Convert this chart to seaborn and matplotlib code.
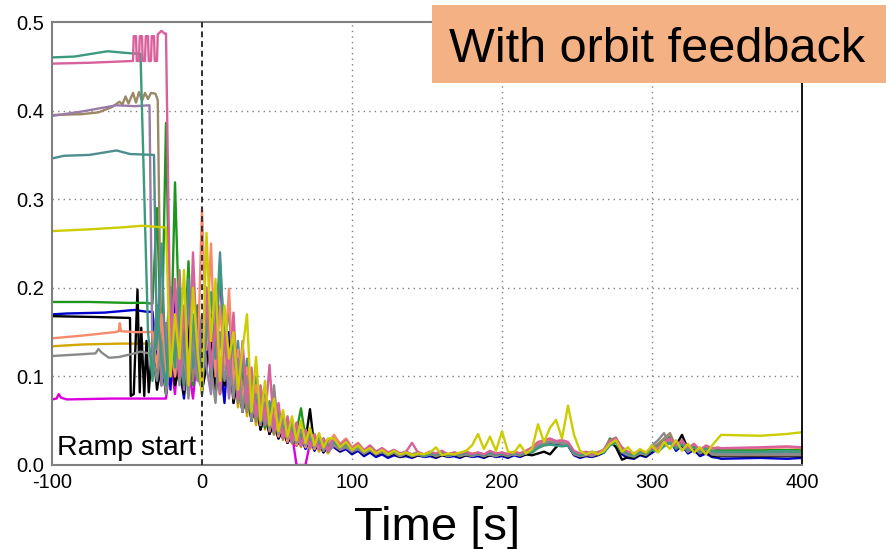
import matplotlib
matplotlib.use("Agg")
import matplotlib.pyplot as plt
from matplotlib.patches import Rectangle
import pandas as pd
import seaborn as sns

# Sample times (s): fine sampling through the ramp, coarser afterwards, then the flat tail
t_fast = list(range(-36, 85, 3))
t_slow = list(range(88, 345, 4))
t_tail = [346, 372, 390, 400]

# All values below are in units of 1e-3.
# *_lead: (time, value) pairs before the signal breaks up; *_noise: values on the
# end of the t_fast + t_slow grid; *_tail: values on t_tail.
teal_lead = [(-100, 460), (-85, 461), (-63, 467), (-50, 465), (-41, 464)]
teal_noise = [150, 95, 180, 120, 90, 160, 110, 200, 130, 100, 170, 115, 85, 150, 195, 120, 228, 140, 100, 150,
              90, 120, 75, 100, 65, 88, 55, 72, 45, 60, 40, 52, 35, 45, 30, 40, 26, 34, 22, 30, 20,
              26, 20, 24, 17, 21, 15, 19, 14, 17, 12, 16, 12, 14, 11, 14, 10, 13, 12, 14, 11, 13, 12, 14, 11, 13,
              11, 14, 12, 13, 11, 14, 12, 15, 14, 19, 22, 23, 22, 21, 22, 14, 11, 13, 15, 13, 14, 22, 25, 17, 13,
              11, 15, 13, 17, 15, 21, 25, 19, 23, 17, 21, 15, 19, 16, 15]
teal_tail = [15, 15, 16, 15]

pink_lead = [(-100, 453), (-75, 454), (-46, 456), (-45.5, 484), (-44, 484), (-43.5, 456), (-42, 456),
             (-41.5, 484), (-40, 484), (-39.5, 456), (-38, 456), (-37.5, 484), (-36, 484), (-35.5, 456),
             (-34, 456), (-33.5, 484), (-32, 484), (-31.5, 456), (-30, 456), (-29.5, 486), (-27, 490),
             (-25, 487), (-24, 487)]
pink_noise = [130, 210, 100, 180, 90, 240, 120, 85, 200, 110, 160, 80, 150, 100, 172, 75, 140, 70, 110, 55,
              90, 50, 113, 40, 70, 30, 55, 28, 48, 22, 40, 20, 35, 18, 30, 16,
              30, 22, 28, 18, 24, 16, 22, 15, 19, 14, 17, 13, 15, 25, 14, 12, 15, 13, 16, 12, 14, 13, 15, 12, 14,
              12, 16, 13, 14, 12, 15, 13, 16, 20, 26, 28, 30, 27, 28, 26, 16, 13, 15, 12, 14, 16, 27, 30, 20, 15,
              13, 17, 14, 20, 16, 26, 30, 22, 28, 19, 24, 17, 22, 19, 19]
pink_tail = [19, 20, 21, 20]

brown_lead = [(-100, 395), (-80, 396), (-69, 398), (-60, 404), (-55, 410), (-53, 407), (-51, 416), (-49, 408),
              (-46, 420), (-44, 409), (-42, 421), (-40, 411), (-38, 420), (-36, 413), (-34, 420), (-31, 419),
              (-29.5, 412)]
brown_noise = [90, 160, 100, 150, 220, 110, 180, 95, 150, 120, 200, 90, 170, 100, 140, 80, 130, 70, 120, 60,
               95, 50, 80, 45, 70, 35, 58, 30, 50, 25, 42, 22, 38, 20, 32, 18, 28, 16,
               24, 18, 22, 16, 20, 14, 18, 13, 16, 12, 15, 11, 13, 10, 12, 11, 13, 10, 12, 11, 13, 10, 12, 11, 12,
               10, 13, 11, 12, 10, 13, 11, 14, 17, 23, 25, 27, 26, 25, 24, 13, 10, 12, 11, 13, 18, 28, 31, 16, 12,
               10, 14, 12, 19, 24, 30, 36, 20, 26, 16, 22, 14, 18, 12, 11]
brown_tail = [11, 11, 11, 11]

purple_lead = [(-100, 394), (-80, 399), (-57, 406), (-45, 405), (-35, 406)]
purple_noise = [110, 180, 90, 140, 200, 100, 160, 85, 190, 120, 95, 170, 110, 80, 190, 100, 150, 75, 130, 95,
                60, 110, 70, 55, 85, 45, 65, 38, 55, 30, 45, 25, 40, 22, 34, 20, 30, 18, 26, 15,
                22, 17, 20, 15, 18, 13, 17, 12, 15, 11, 14, 10, 13, 11, 12, 10, 12, 11, 13, 10, 12, 11, 13, 10, 12,
                11, 12, 10, 13, 11, 12, 11, 14, 16, 22, 24, 26, 25, 24, 23, 12, 10, 11, 12, 13, 15, 24, 27, 15, 11,
                10, 13, 12, 18, 20, 26, 30, 19, 24, 15, 20, 13, 17, 12, 13]
purple_tail = [13, 13, 12, 13]

slate_lead = [(-100, 346), (-92, 349), (-75, 350), (-57, 355), (-48, 351), (-32, 350)]
slate_noise = [130, 250, 95, 200, 120, 170, 90, 210, 110, 150, 85, 180, 100, 140, 240, 130, 180, 90, 140, 70,
               120, 60, 100, 55, 80, 42, 65, 38, 55, 30, 48, 26, 40, 22, 36, 20, 30, 17, 25,
               28, 21, 25, 18, 22, 16, 20, 14, 18, 13, 16, 12, 15, 12, 14, 11, 14, 12, 15, 11, 14, 12, 13, 11, 14,
               12, 13, 11, 14, 12, 13, 12, 15, 18, 24, 27, 28, 26, 26, 24, 14, 12, 13, 12, 14, 17, 26, 29, 17, 13,
               11, 15, 13, 19, 17, 24, 28, 20, 25, 17, 22, 15, 19, 15, 14]
slate_tail = [14, 14, 15, 14]

yellow_lead = [(-100, 264), (-75, 266), (-55, 268), (-40, 270), (-24, 268)]
yellow_noise = [100, 170, 120, 220, 90, 200, 130, 80, 262, 140, 210, 95, 180, 120, 150, 85, 130, 170, 60, 122,
                50, 95, 45, 75, 38, 62, 32, 55, 28, 50, 25, 42, 22, 36, 20, 30,
                30, 20, 26, 17, 22, 15, 19, 13, 17, 12, 16, 12, 14, 11, 13, 12, 14, 20, 11, 13, 12, 14, 16, 22, 35,
                18, 32, 16, 38, 15, 14, 23, 13, 18, 46, 26, 42, 51, 30, 67, 34, 16, 12, 15, 12, 16, 24, 28, 15, 20,
                12, 18, 14, 22, 14, 26, 18, 28, 16, 24, 14, 20, 12, 22, 30]
yellow_tail = [34, 33, 35, 37]

green_lead = [(-100, 184), (-75, 184), (-50, 183), (-38, 183), (-33, 182)]
green_noise = [290, 120, 386, 110, 319, 150, 120, 230, 90, 180, 140, 200, 100, 160, 80, 130, 95, 150, 70, 110,
               60, 95, 50, 80, 42, 68, 35, 55, 30, 45, 25, 38, 64, 30, 35, 22, 30, 18, 26,
               32, 22, 27, 18, 23, 15, 20, 14, 17, 12, 16, 11, 14, 10, 13, 11, 14, 10, 13, 11, 12, 10, 13, 11, 12,
               10, 13, 11, 12, 10, 13, 11, 14, 17, 22, 25, 26, 25, 24, 23, 13, 10, 12, 11, 13, 16, 30, 26, 14, 11,
               9, 14, 11, 17, 22, 27, 32, 18, 24, 15, 20, 14, 18, 16, 17]
green_tail = [17, 17, 17, 17]

blue_lead = [(-100, 170), (-90, 171), (-65, 172), (-45, 175), (-37, 173), (-33, 173)]
blue_noise = [120, 90, 160, 85, 200, 110, 75, 150, 95, 180, 80, 130, 170, 90, 120, 70, 150, 85, 110, 60,
              90, 50, 75, 40, 62, 35, 50, 30, 45, 25, 38, 22, 32, 18, 30, 16, 26, 14, 22,
              20, 15, 18, 12, 16, 10, 14, 9, 12, 8, 11, 9, 10, 8, 11, 9, 10, 8, 11, 9, 10, 8, 11, 9, 10,
              8, 11, 9, 10, 8, 11, 9, 12, 15, 20, 23, 25, 24, 23, 22, 11, 8, 10, 9, 11, 14, 24, 27, 12, 8,
              7, 11, 9, 14, 18, 24, 28, 16, 22, 13, 17, 10, 13, 9, 8]
blue_tail = [7, 8, 7, 8]

black_lead = [(-100, 168), (-70, 167), (-48, 166), (-47.5, 78), (-45.5, 80), (-43, 198), (-41.5, 82),
              (-40.5, 155), (-38.5, 78), (-37, 140), (-35.5, 82)]
black_noise = [140, 85, 120, 80, 150, 90, 110, 80, 160, 95, 130, 85, 110, 150, 80, 120, 90, 140, 70, 100,
               60, 90, 50, 75, 40, 60, 35, 48, 30, 40, 25, 35, 22, 30, 28, 63, 18, 25, 15, 20,
               22, 16, 28, 14, 20, 12, 17, 11, 15, 10, 13, 9, 12, 9, 11, 10, 12, 9, 11, 10, 12, 9, 11, 10, 12,
               9, 11, 10, 12, 9, 14, 10, 12, 11, 13, 15, 12, 20, 26, 24, 12, 9, 11, 10, 12, 15, 27, 20, 6, 9,
               8, 12, 10, 16, 20, 25, 28, 22, 34, 18, 22, 12, 16, 10, 10]
black_tail = [10, 10, 10, 10]

salmon_lead = [(-100, 143), (-80, 146), (-58, 150), (-55.5, 151), (-54.8, 160), (-54, 151), (-45, 150),
               (-33, 150)]
salmon_noise = [110, 170, 90, 140, 100, 200, 120, 90, 160, 110, 290, 130, 250, 100, 180, 110, 199, 90, 130, 70,
                110, 55, 90, 45, 75, 38, 60, 32, 50, 26, 42, 22, 36, 20, 32, 18, 28, 16, 24,
                34, 24, 30, 20, 25, 17, 22, 15, 19, 14, 17, 13, 15, 12, 15, 12, 14, 13, 15, 12, 14, 12, 15, 13, 14,
                12, 15, 13, 14, 12, 15, 13, 16, 19, 25, 27, 29, 27, 27, 25, 15, 12, 14, 12, 15, 17, 26, 28, 18, 14,
                12, 16, 13, 19, 18, 25, 29, 21, 26, 18, 23, 16, 21, 19, 20]
salmon_tail = [19, 19, 20, 19]

gold_lead = [(-100, 134), (-80, 136), (-55, 137), (-33, 137)]
gold_noise = [100, 150, 85, 130, 180, 95, 140, 80, 210, 120, 90, 200, 110, 160, 80, 140, 100, 120, 65, 100,
              55, 85, 45, 70, 40, 58, 34, 50, 28, 42, 24, 36, 20, 32, 18, 28, 15, 24, 13,
              25, 19, 23, 16, 20, 14, 18, 12, 16, 11, 14, 10, 13, 10, 12, 11, 12, 10, 13, 11, 12, 10, 12, 11, 13,
              10, 12, 11, 13, 10, 12, 11, 14, 16, 21, 24, 25, 24, 23, 22, 12, 10, 12, 11, 12, 15, 25, 27, 15, 11,
              10, 14, 11, 18, 16, 23, 27, 18, 23, 15, 19, 13, 17, 13, 12]
gold_tail = [12, 12, 12, 12]

gray_lead = [(-100, 123), (-80, 125), (-71, 126), (-69, 131), (-67, 127), (-62, 121), (-55, 122), (-45, 126),
             (-41, 128), (-33, 125)]
gray_noise = [95, 140, 80, 120, 170, 90, 130, 75, 150, 100, 85, 180, 110, 70, 150, 95, 130, 75, 120, 60,
              100, 50, 80, 45, 70, 40, 90, 35, 55, 30, 45, 25, 38, 22, 34, 20, 28, 16, 24,
              24, 18, 21, 15, 19, 13, 17, 12, 15, 11, 14, 10, 13, 10, 12, 10, 12, 11, 13, 10, 12, 11, 12, 10, 13,
              11, 12, 10, 13, 11, 12, 11, 13, 16, 22, 24, 26, 25, 25, 23, 13, 11, 12, 10, 13, 16, 25, 28, 16, 12,
              10, 14, 12, 22, 28, 36, 24, 20, 25, 16, 21, 14, 18, 13, 12]
gray_tail = [12, 12, 12, 12]

magenta_lead = [(-100, 74), (-97, 75), (-95.5, 80), (-94, 76), (-90, 74), (-60, 75), (-35, 75), (-26, 75)]
magenta_noise = [75, 120, 80, 150, 90, 110, 75, 130, 85, 160, 95, 140, 220, 110, 150, 70, 120, 60, 95, 50,
                 80, 40, 65, 35, 55, 30, 45, 25, 35, 0, 0, 0, 25, 30, 18, 24, 15,
                 26, 19, 23, 16, 20, 14, 18, 12, 16, 11, 14, 10, 13, 11, 12, 10, 13, 11, 12, 10, 13, 11, 12, 10, 13,
                 11, 12, 10, 12, 11, 13, 11, 14, 17, 23, 25, 27, 26, 25, 23, 13, 10, 12, 11, 13, 16, 26, 28, 15, 11,
                 10, 14, 12, 18, 19, 25, 29, 19, 24, 16, 21, 14, 18, 15, 16]
magenta_tail = [16, 16, 16, 16]

# Drawing order (bottom to top) and colours
series = [
    ("magenta", magenta_lead, magenta_noise, magenta_tail, "#DC00DC"),
    ("gold", gold_lead, gold_noise, gold_tail, "#D2A800"),
    ("blue", blue_lead, blue_noise, blue_tail, "#0000CC"),
    ("black", black_lead, black_noise, black_tail, "#000000"),
    ("green", green_lead, green_noise, green_tail, "#1C961C"),
    ("brown", brown_lead, brown_noise, brown_tail, "#9C8767"),
    ("purple", purple_lead, purple_noise, purple_tail, "#9A7BA6"),
    ("slate", slate_lead, slate_noise, slate_tail, "#4E8D8D"),
    ("salmon", salmon_lead, salmon_noise, salmon_tail, "#F58A6C"),
    ("gray", gray_lead, gray_noise, gray_tail, "#8A8A8A"),
    ("teal", teal_lead, teal_noise, teal_tail, "#3C9A7E"),
    ("pink", pink_lead, pink_noise, pink_tail, "#D8609C"),
    ("yellow", yellow_lead, yellow_noise, yellow_tail, "#CCCC00"),
]

grid = t_fast + t_slow
rows = []
for name, lead, noise, tail, _ in series:
    times = [p[0] for p in lead] + grid[len(grid) - len(noise):] + t_tail
    vals = [p[1] for p in lead] + noise + tail
    for i, (t, v) in enumerate(zip(times, vals)):
        rows.append({"series": name, "order": i, "t": t, "v": v / 1000.0})
df = pd.DataFrame(rows)

sns.set_style("white")
plt.rcParams["font.family"] = ["Liberation Sans", "DejaVu Sans"]
plt.rcParams["axes.unicode_minus"] = False
plt.rcParams["text.color"] = "black"
plt.rcParams["xtick.color"] = "black"
plt.rcParams["ytick.color"] = "black"

fig = plt.figure(figsize=(8.87, 5.49), dpi=100)
ax = fig.add_axes([52 / 887, 1 - 465 / 549, 750 / 887, 443 / 549])

sns.lineplot(data=df, x="t", y="v", hue="series", hue_order=[s[0] for s in series],
             palette={s[0]: s[4] for s in series}, estimator=None, sort=False,
             linewidth=1.7, legend=False, ax=ax)

ax.set_xlim(-100, 400)
ax.set_ylim(0, 0.5)
ax.set_xticks([-100, 0, 100, 200, 300, 400])
ax.set_xticks([-50, 50, 150, 250, 350], minor=True)
ax.set_yticks([0.0, 0.1, 0.2, 0.3, 0.4, 0.5])
ax.set_yticks([0.05, 0.15, 0.25, 0.35, 0.45], minor=True)
ax.set_yticklabels([f"{y:.1f}" for y in [0.0, 0.1, 0.2, 0.3, 0.4, 0.5]])
ax.tick_params(axis="both", which="both", direction="inout", length=5, width=1,
               color="#808080", labelsize=14.5, labelcolor="black", pad=3)
ax.set_xlabel("")
ax.set_ylabel("")

# dotted grid at the major ticks
for gx in [100, 200, 300]:
    ax.axvline(gx, color="#808080", linestyle=(0, (1, 3)), linewidth=1.0, zorder=0)
for gy in [0.1, 0.2, 0.3, 0.4]:
    ax.axhline(gy, color="#808080", linestyle=(0, (1, 3)), linewidth=1.0, zorder=0)

# ramp start marker
ax.axvline(0, color="#303030", linestyle=(0, (3, 2)), linewidth=1.4, zorder=5)
ax.text(-96.5, 0.011, "Ramp start", fontsize=20.5, color="black", ha="left", va="baseline", zorder=6)

for side in ["left", "bottom", "top"]:
    ax.spines[side].set_color("#808080")
    ax.spines[side].set_linewidth(1.5)
ax.spines["right"].set_color("black")
ax.spines["right"].set_linewidth(1.3)

fig.text(437 / 887, 1 - 540 / 549, "Time [s]", fontsize=34, color="black", ha="center", va="baseline")

# annotation box in the upper right
fig.patches.append(Rectangle((432 / 887, 1 - 83 / 549), 454 / 887, 78 / 549,
                             transform=fig.transFigure, facecolor="#F4B183", edgecolor="none", zorder=10))
fig.text(657 / 887, 1 - 62 / 549, "With orbit feedback", fontsize=35, color="black",
         ha="center", va="baseline", zorder=11)

fig.savefig("out.png", dpi=100)
